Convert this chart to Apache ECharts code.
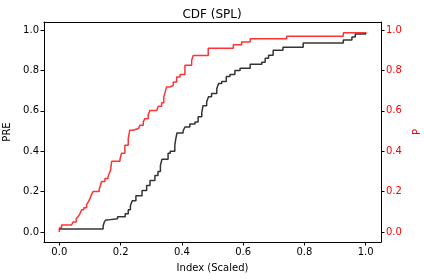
<!DOCTYPE html>
<html>
<head>
<meta charset="utf-8">
<script src="https://cdn.jsdelivr.net/npm/echarts@6/dist/echarts.min.js"></script>
<style>html,body{margin:0;padding:0;background:#fff}#c{width:424px;height:280px}</style>
</head>
<body>
<div id="c"></div>
<script>
var tickValues = [0, 0.2, 0.4, 0.6, 0.8, 1.0];
var preX = [0, 0.143, 0.147, 0.152, 0.16, 0.19, 0.215, 0.225, 0.232, 0.238, 0.25, 0.27, 0.285, 0.296, 0.312, 0.322, 0.33, 0.335,
  0.355, 0.362, 0.377, 0.38, 0.384, 0.404, 0.41, 0.426, 0.443, 0.453, 0.465, 0.469, 0.481, 0.487, 0.497,
  0.514, 0.52, 0.53, 0.545, 0.557, 0.573, 0.59, 0.623, 0.661, 0.672, 0.683, 0.698, 0.73, 0.796, 0.927, 0.955, 0.966, 1.0];
var preY = [0.015, 0.03, 0.05, 0.06, 0.065, 0.075, 0.09, 0.11, 0.13, 0.155, 0.18, 0.205, 0.23, 0.255, 0.28, 0.30, 0.33, 0.36,
  0.39, 0.40, 0.43, 0.46, 0.49, 0.50, 0.52, 0.535, 0.545, 0.57, 0.59, 0.625, 0.645, 0.67, 0.685,
  0.71, 0.735, 0.745, 0.77, 0.78, 0.80, 0.81, 0.83, 0.84, 0.86, 0.875, 0.90, 0.915, 0.935, 0.95, 0.965, 0.98, 0.985];
var pX = [0, 0, 0.007, 0.04, 0.045, 0.055, 0.061, 0.067, 0.073, 0.08, 0.089, 0.095, 0.1, 0.105, 0.11, 0.13, 0.135, 0.138, 0.149, 0.159, 0.163, 0.167, 0.171,
  0.198, 0.203, 0.214, 0.225, 0.23, 0.241, 0.258, 0.263, 0.274, 0.279, 0.29, 0.296, 0.318, 0.323, 0.334, 0.341, 0.347,
  0.35, 0.361, 0.372, 0.383, 0.394, 0.41, 0.432, 0.437, 0.486, 0.568, 0.595, 0.623, 0.742, 0.927, 1.0];
var pY = [0, 0.02, 0.035, 0.04, 0.05, 0.065, 0.075, 0.09, 0.11, 0.12, 0.135, 0.15, 0.165, 0.185, 0.2, 0.21, 0.235, 0.25, 0.265, 0.275, 0.29, 0.305, 0.35,
  0.36, 0.39, 0.43, 0.463, 0.504, 0.512, 0.52, 0.528, 0.545, 0.561, 0.58, 0.602, 0.61, 0.622, 0.64, 0.668, 0.701,
  0.718, 0.726, 0.742, 0.767, 0.78, 0.825, 0.85, 0.874, 0.91, 0.927, 0.94, 0.957, 0.969, 0.986, 0.99];

function zip(a, b) { return a.map(function (v, i) { return [v, b[i]]; }); }
var font = 'DejaVu Sans';
var fmt = function (v) { return (Math.round(v * 10) / 10).toFixed(1); };
var chart = echarts.init(document.getElementById('c'), null, {renderer: 'canvas'});
function yAxis(pos, color, name) {
  return {
    type: 'value', position: pos, min: -0.0495, max: 1.0395,
    name: name, nameLocation: 'middle', nameGap: pos === 'left' ? 32 : 27,
    nameTextStyle: {color: color, fontFamily: font, fontSize: 10},
    axisLine: {show: true, onZero: false, lineStyle: {color: '#000', width: 1}},
    axisTick: {show: true, length: 3.5, lineStyle: {color: '#000'}, customValues: tickValues},
    axisLabel: {color: color, fontFamily: font, fontSize: 10, margin: 5, formatter: fmt, customValues: tickValues},
    splitLine: {show: false}
  };
}
chart.setOption({
  animation: false,
  title: {text: 'CDF (SPL)', left: 'center', top: 4, textStyle: {fontFamily: font, fontSize: 12, fontWeight: 'normal', color: '#000'}},
  grid: {left: 44, right: 43, top: 22, bottom: 38, containLabel: false, outerBoundsMode: 'none'},
  xAxis: [{
    type: 'value', min: -0.05, max: 1.05, position: 'bottom',
    name: 'Index (Scaled)', nameLocation: 'middle', nameGap: 21,
    nameTextStyle: {color: '#000', fontFamily: font, fontSize: 10},
    axisLine: {show: true, onZero: false, lineStyle: {color: '#000', width: 1}},
    axisTick: {show: true, length: 3.5, lineStyle: {color: '#000'}, customValues: tickValues},
    axisLabel: {color: '#000', fontFamily: font, fontSize: 10, margin: 5, formatter: fmt, customValues: tickValues},
    splitLine: {show: false}
  }, {
    type: 'value', min: -0.05, max: 1.05, position: 'top',
    axisLine: {show: true, onZero: false, lineStyle: {color: '#000', width: 1}},
    axisTick: {show: false}, axisLabel: {show: false}, splitLine: {show: false}
  }],
  yAxis: [yAxis('left', '#000', 'PRE'), yAxis('right', '#ff0000', 'P')],
  series: [{
    type: 'line', step: 'end', showSymbol: false, symbol: 'none', yAxisIndex: 0, xAxisIndex: 0,
    data: zip(preX, preY),
    lineStyle: {color: '#000', width: 1.5, opacity: 0.8}
  }, {
    type: 'line', step: 'end', showSymbol: false, symbol: 'none', yAxisIndex: 1, xAxisIndex: 0,
    data: zip(pX, pY),
    lineStyle: {color: '#ff0000', width: 1.5, opacity: 0.8}
  }]
});
</script>
</body>
</html>
